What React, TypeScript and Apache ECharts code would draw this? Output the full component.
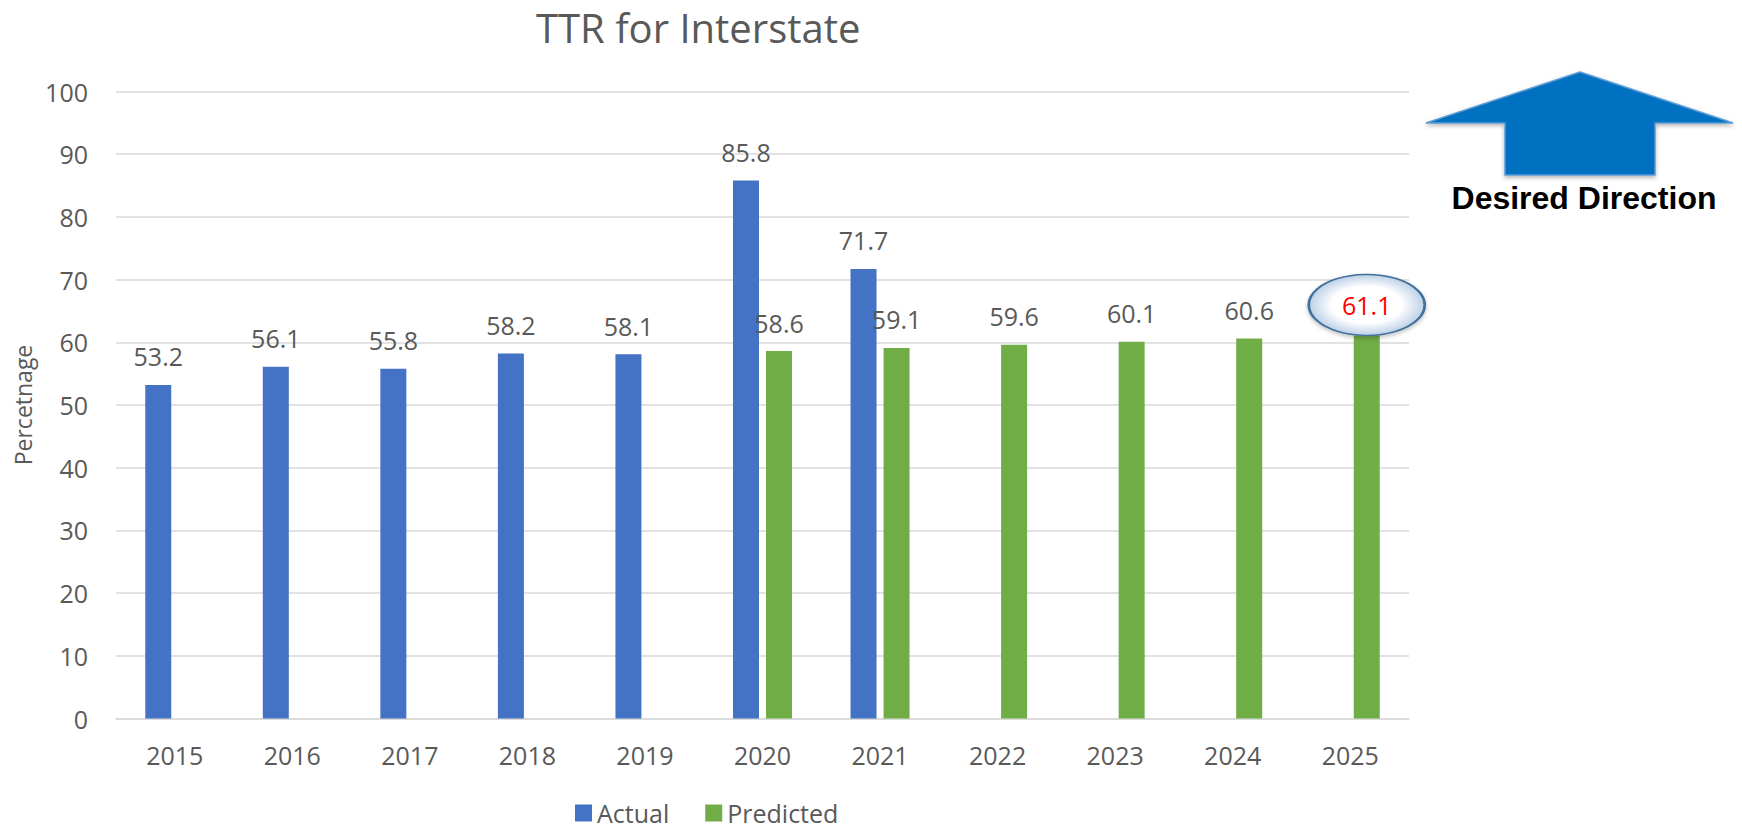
import React, { useEffect, useRef } from 'react';
import * as echarts from 'echarts';

const years = ['2015', '2016', '2017', '2018', '2019', '2020', '2021', '2022', '2023', '2024', '2025'];
const actual: (number | null)[] = [53.2, 56.1, 55.8, 58.2, 58.1, 85.8, 71.7, null, null, null, null];
const predicted: (number | null)[] = [null, null, null, null, null, 58.6, 59.1, 59.6, 60.1, 60.6, 61.1];
const highlightYear = '2025';
const highlightValue = 61.1;

const FONT = '"Open Sans", "Noto Sans", sans-serif';
const GREY = '#595959';

export default function App() {
  const ref = useRef<HTMLDivElement>(null);
  useEffect(() => {
    document.body.style.margin = '0';
    const chart = echarts.init(ref.current!, null, { renderer: 'svg' });
    const hlIdx = years.indexOf(highlightYear);
    chart.setOption({
      animation: false,
      textStyle: { fontFamily: FONT },
      title: {
        text: 'TTR for Interstate',
        left: 536,
        top: 7,
        padding: 0,
        textStyle: { fontFamily: FONT, fontSize: 40, fontWeight: 'normal', color: GREY, lineHeight: 40 },
      },
      legend: {
        data: ['Actual', 'Predicted'],
        left: 575,
        top: 800,
        padding: 0,
        icon: 'rect',
        itemWidth: 17,
        itemHeight: 17,
        itemGap: 36,
        textStyle: { fontFamily: FONT, fontSize: 25, color: GREY, lineHeight: 26 },
      },
      grid: { left: 116, right: 333, top: 91.5, bottom: 110.5 },
      xAxis: {
        type: 'category',
        data: years,
        axisLine: { lineStyle: { color: '#D9D9D9', width: 1.5 } },
        axisTick: { show: false },
        axisLabel: { fontFamily: FONT, fontSize: 25, color: GREY, margin: 24 },
      },
      yAxis: {
        type: 'value',
        min: 0,
        max: 100,
        interval: 10,
        name: 'Percetnage',
        nameLocation: 'middle',
        nameGap: 82,
        nameTextStyle: { fontFamily: FONT, fontSize: 23, color: GREY },
        axisLine: { show: false },
        axisTick: { show: false },
        splitLine: { lineStyle: { color: '#D9D9D9', width: 1.5 } },
        axisLabel: { fontFamily: FONT, fontSize: 25, color: GREY, margin: 28 },
      },
      series: [
        {
          name: 'Actual',
          type: 'bar',
          data: actual,
          barWidth: 26,
          barGap: '27%',
          itemStyle: { color: '#4472C4' },
          label: { show: true, position: 'top', distance: 16, fontFamily: FONT, fontSize: 25, color: GREY },
        },
        {
          name: 'Predicted',
          type: 'bar',
          data: predicted.map((v, i) => (i === hlIdx ? { value: v, label: { show: false } } : v)),
          barWidth: 26,
          barGap: '27%',
          itemStyle: { color: '#70AD47' },
          label: { show: true, position: 'top', distance: 16, fontFamily: FONT, fontSize: 25, color: GREY },
          markPoint: {
            symbol: 'circle',
            symbolSize: [116, 61],
            symbolOffset: [0, '-50%'],
            itemStyle: {
              color: {
                type: 'radial', x: 0.5, y: 0.5, r: 0.5,
                colorStops: [
                  { offset: 0, color: '#ffffff' },
                  { offset: 0.6, color: '#ffffff' },
                  { offset: 1, color: '#BCD0E6' },
                ],
              },
              borderColor: '#41719C',
              borderWidth: 2,
              shadowColor: 'rgba(0,0,0,0.25)',
              shadowBlur: 4,
              shadowOffsetY: 2,
            },
            label: {
              show: true,
              position: 'inside',
              formatter: '{c}',
              fontFamily: FONT,
              fontSize: 25,
              color: '#FF0000',
            },
            data: [{ coord: [highlightYear, highlightValue], value: highlightValue }],
          },
        },
      ],
      graphic: [
        {
          type: 'polygon',
          shape: {
            points: [
              [1580, 72], [1733, 123], [1655, 123], [1655, 175],
              [1505, 175], [1505, 123], [1426, 123],
            ],
          },
          style: {
            fill: '#0070C0',
            stroke: '#5B9BD5',
            lineWidth: 1.5,
            shadowColor: 'rgba(0,0,0,0.3)',
            shadowBlur: 4,
            shadowOffsetY: 2,
          },
        },
        {
          type: 'text',
          x: 1584,
          y: 198,
          style: {
            text: 'Desired Direction',
            fill: '#000000',
            font: 'bold 32px "Liberation Sans Narrow", "Liberation Sans", sans-serif',
            textAlign: 'center',
            textVerticalAlign: 'middle',
          },
        },
      ],
    });
    return () => chart.dispose();
  }, []);
  return <div ref={ref} style={{ width: 1742, height: 829 }} />;
}
